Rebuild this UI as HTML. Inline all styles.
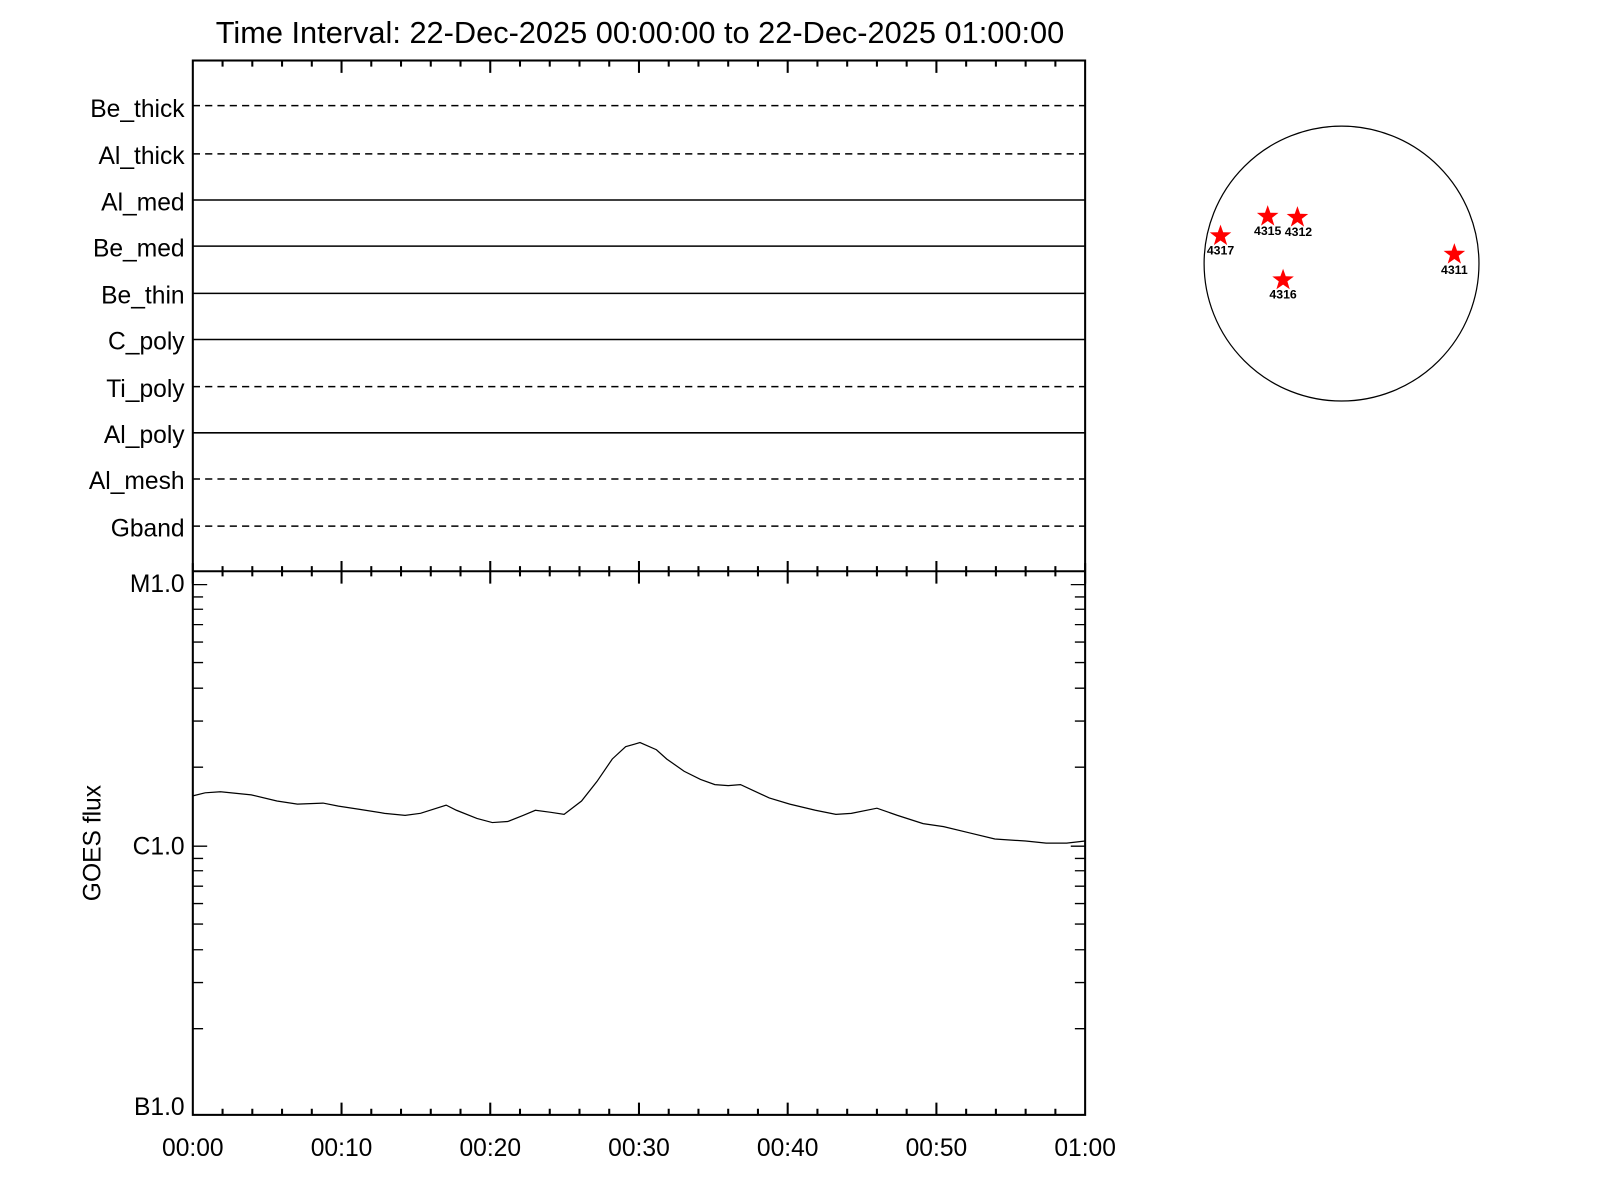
<!DOCTYPE html>
<html><head><style>body{margin:0;background:#fff}svg{display:block}</style></head><body>
<svg width="1600" height="1200" viewBox="0 0 1560 1170" xmlns="http://www.w3.org/2000/svg" font-family="Liberation Sans, sans-serif">
<rect width="1560" height="1170" fill="#fff"/>
<text x="624" y="42" font-size="30" text-anchor="middle">Time Interval: 22-Dec-2025 00:00:00 to 22-Dec-2025 01:00:00</text>
<g stroke="#000" stroke-width="2" fill="none">
<rect x="188" y="59" width="870" height="1028"/>
<line x1="188" y1="557" x2="1058" y2="557"/>
</g>
<g stroke="#000" stroke-width="1.5">
<line x1="188" y1="103" x2="1058" y2="103" stroke-dasharray="7,5"/>
<line x1="188" y1="150" x2="1058" y2="150" stroke-dasharray="7,5"/>
<line x1="188" y1="195" x2="1058" y2="195"/>
<line x1="188" y1="240" x2="1058" y2="240"/>
<line x1="188" y1="286" x2="1058" y2="286"/>
<line x1="188" y1="331" x2="1058" y2="331"/>
<line x1="188" y1="377" x2="1058" y2="377" stroke-dasharray="7,5"/>
<line x1="188" y1="422" x2="1058" y2="422"/>
<line x1="188" y1="467" x2="1058" y2="467" stroke-dasharray="7,5"/>
<line x1="188" y1="513" x2="1058" y2="513" stroke-dasharray="7,5"/>
</g>
<g font-size="24" text-anchor="end">
<text x="180" y="114">Be_thick</text>
<text x="180" y="160">Al_thick</text>
<text x="180" y="205">Al_med</text>
<text x="180" y="250">Be_med</text>
<text x="180" y="296">Be_thin</text>
<text x="180" y="341">C_poly</text>
<text x="180" y="387">Ti_poly</text>
<text x="180" y="432">Al_poly</text>
<text x="180" y="477">Al_mesh</text>
<text x="180" y="523">Gband</text>
<text x="180" y="577">M1.0</text>
<text x="180" y="833">C1.0</text>
<text x="180" y="1087">B1.0</text>
</g>
<g font-size="24" text-anchor="middle">
<text x="188" y="1127">00:00</text><text x="333" y="1127">00:10</text><text x="478" y="1127">00:20</text>
<text x="623" y="1127">00:30</text><text x="768" y="1127">00:40</text><text x="913" y="1127">00:50</text><text x="1058" y="1127">01:00</text>
</g>
<text transform="translate(98,822) rotate(-90)" font-size="24" text-anchor="middle">GOES flux</text>
<g stroke="#000" stroke-width="2">
<path d="M217 59v6M246 59v6M275 59v6M304 59v6M362 59v6M391 59v6M420 59v6M449 59v6M507 59v6M536 59v6M565 59v6M594 59v6M652 59v6M681 59v6M710 59v6M739 59v6M797 59v6M826 59v6M855 59v6M884 59v6M942 59v6M971 59v6M1000 59v6M1029 59v6"/>
<path d="M333 59v12M478 59v12M623 59v12M768 59v12M913 59v12"/>
<path d="M217 552v10M246 552v10M275 552v10M304 552v10M362 552v10M391 552v10M420 552v10M449 552v10M507 552v10M536 552v10M565 552v10M594 552v10M652 552v10M681 552v10M710 552v10M739 552v10M797 552v10M826 552v10M855 552v10M884 552v10M942 552v10M971 552v10M1000 552v10M1029 552v10"/>
<path d="M188 549v20M333 547v22M478 547v22M623 547v22M768 547v22M913 547v22M1058 549v20"/>
<path d="M217 1087v-6M246 1087v-6M275 1087v-6M304 1087v-6M362 1087v-6M391 1087v-6M420 1087v-6M449 1087v-6M507 1087v-6M536 1087v-6M565 1087v-6M594 1087v-6M652 1087v-6M681 1087v-6M710 1087v-6M739 1087v-6M797 1087v-6M826 1087v-6M855 1087v-6M884 1087v-6M942 1087v-6M971 1087v-6M1000 1087v-6M1029 1087v-6"/>
<path d="M333 1087v-12M478 1087v-12M623 1087v-12M768 1087v-12M913 1087v-12"/>
</g>
<g stroke="#000" stroke-width="1.3">
<path d="M188 1003h10M188 958h10M188 926h10M188 901h10M188 881h10M188 864h10M188 849h10M188 837h10M188 825h14M188 748h10M188 703h10M188 671h10M188 646h10M188 626h10M188 609h10M188 594h10M188 582h10M188 570h14"/>
<path d="M1058 1003h-10M1058 958h-10M1058 926h-10M1058 901h-10M1058 881h-10M1058 864h-10M1058 849h-10M1058 837h-10M1058 825h-14M1058 748h-10M1058 703h-10M1058 671h-10M1058 646h-10M1058 626h-10M1058 609h-10M1058 594h-10M1058 582h-10M1058 570h-14"/>
</g>
<path fill="none" stroke="#000" stroke-width="1.2" d="M188 776L200 773L215 772L245 775L270 781L290 784L315 783L330 786L350 789L375 793L395 795L410 793L435 785L445 790L465 798L480 802L495 801L510 795L522 790L537 792L550 794L567 781L582 762L597 740L610 728L624 724L640 731L650 740L667 752L683 760L697 765L710 766L722 765L735 771L750 778L770 784L795 790L815 794L830 793L855 788L875 795L900 803L920 806L945 812L970 818L1000 820L1020 822L1040 822L1058 820"/>
<circle cx="1308" cy="257" r="134" fill="none" stroke="#000" stroke-width="1.2"/>
<defs><polygon id="st" points="0,-11 2.6,-3.6 10.5,-3.4 4.2,1.4 6.5,9 0,4.5 -6.5,9 -4.2,1.4 -10.5,-3.4 -2.6,-3.6" fill="#f00"/></defs>
<use href="#st" x="1236" y="211"/><use href="#st" x="1265" y="212"/><use href="#st" x="1190" y="230"/><use href="#st" x="1251" y="273"/><use href="#st" x="1418" y="248"/>
<g font-size="12" text-anchor="middle" font-weight="bold">
<text x="1236" y="229">4315</text><text x="1266" y="230">4312</text><text x="1190" y="248">4317</text><text x="1251" y="291">4316</text><text x="1418" y="267">4311</text>
</g>
</svg>
</body></html>
